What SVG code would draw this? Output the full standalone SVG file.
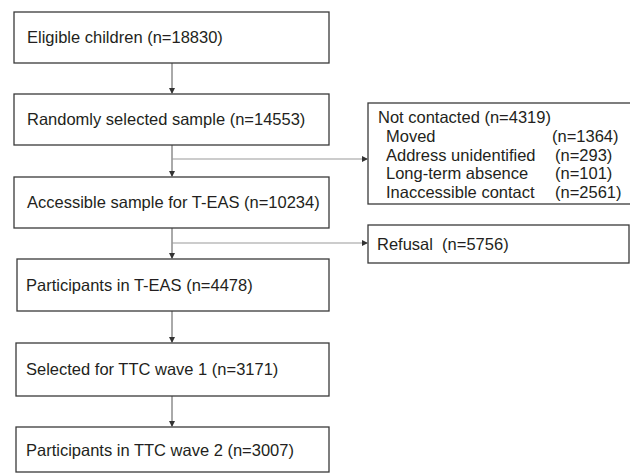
<svg xmlns="http://www.w3.org/2000/svg" width="630" height="474" viewBox="0 0 630 474">
  <defs>
    <marker id="arrow" markerWidth="6" markerHeight="6" refX="5" refY="3" orient="auto" markerUnits="userSpaceOnUse">
      <path d="M0,0 L6,3 L0,6 Z" fill="#333"/>
    </marker>
    <style>
      .box { fill: #fff; stroke: #3a3a3a; stroke-width: 1.3; }
      .lbl { font-family: "Liberation Sans", Arial, sans-serif; font-size: 16.5px; fill: #231f20; white-space: pre; }
      .main { fill: none; stroke: #555; stroke-width: 1; marker-end: url(#arrow); }
      .side { fill: none; stroke: #999; stroke-width: 1.2; marker-end: url(#arrow); }
    </style>
  </defs>
  <rect width="630" height="474" fill="#fff"/>

  <g id="connectors">
    <line class="main" x1="172" y1="63" x2="172" y2="93"/>
    <line class="main" x1="172" y1="145" x2="172" y2="176"/>
    <line class="main" x1="172" y1="228" x2="172" y2="258"/>
    <line class="main" x1="172" y1="311" x2="172" y2="342"/>
    <line class="main" x1="172" y1="396" x2="172" y2="426"/>
    <line class="side" x1="172" y1="159" x2="367" y2="159"/>
    <line class="side" x1="172" y1="243" x2="367" y2="243"/>
  </g>

  <g id="eligible">
    <rect class="box" x="14" y="12" width="315" height="51"/>
    <text class="lbl" x="27" y="43">Eligible children (n=18830)</text>
  </g>
  <g id="random-sample">
    <rect class="box" x="14" y="94" width="315" height="51"/>
    <text class="lbl" x="27" y="125">Randomly selected sample (n=14553)</text>
  </g>
  <g id="accessible">
    <rect class="box" x="14" y="177" width="315" height="51"/>
    <text class="lbl" x="27" y="208">Accessible sample for T-EAS (n=10234)</text>
  </g>
  <g id="teas-participants">
    <rect class="box" x="17" y="259" width="312" height="52"/>
    <text class="lbl" x="26" y="291">Participants in T-EAS (n=4478)</text>
  </g>
  <g id="ttc-wave1">
    <rect class="box" x="16" y="343" width="313" height="53"/>
    <text class="lbl" x="26" y="375">Selected for TTC wave 1 (n=3171)</text>
  </g>
  <g id="ttc-wave2">
    <rect class="box" x="16" y="427" width="313" height="45"/>
    <text class="lbl" x="26" y="456">Participants in TTC wave 2 (n=3007)</text>
  </g>

  <g id="not-contacted">
    <rect class="box" x="368" y="103" width="265" height="101"/>
    <text class="lbl" x="378" y="123">Not contacted (n=4319)</text>
    <text class="lbl" x="386" y="142">Moved</text>
    <text class="lbl" x="552" y="142">(n=1364)</text>
    <text class="lbl" x="386" y="161">Address unidentified</text>
    <text class="lbl" x="555" y="161">(n=293)</text>
    <text class="lbl" x="386" y="179">Long-term absence</text>
    <text class="lbl" x="555" y="179">(n=101)</text>
    <text class="lbl" x="386" y="198">Inaccessible contact</text>
    <text class="lbl" x="555" y="198">(n=2561)</text>
  </g>
  <g id="refusal">
    <rect class="box" x="368" y="225" width="261" height="38"/>
    <text class="lbl" x="377" y="250">Refusal  (n=5756)</text>
  </g>
</svg>
